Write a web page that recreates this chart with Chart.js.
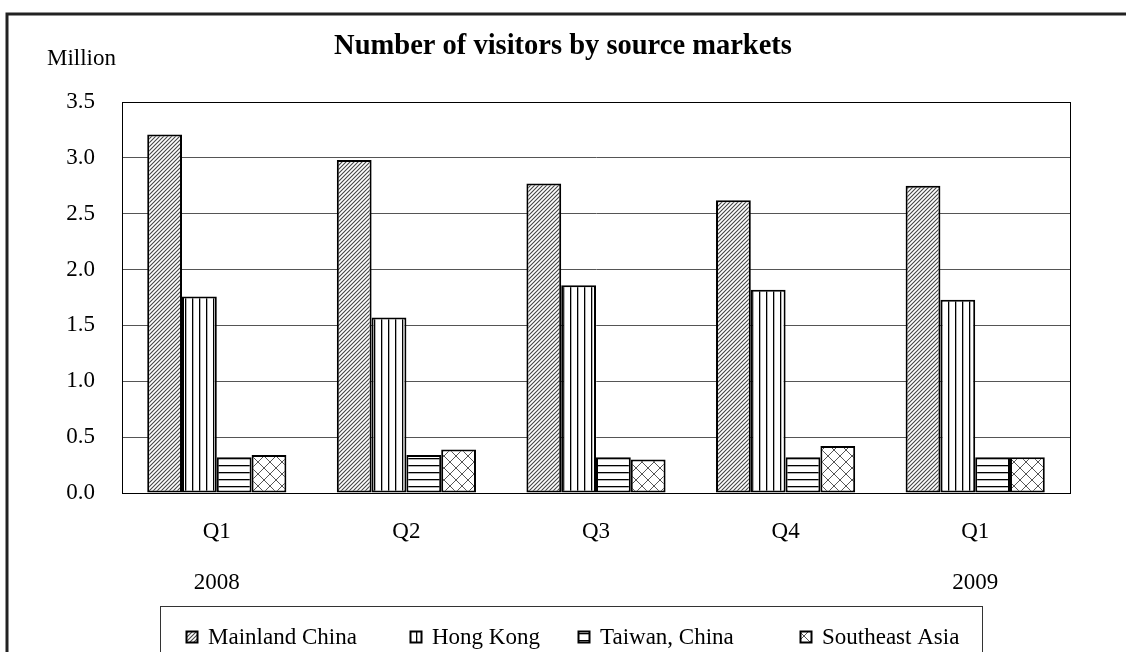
<!DOCTYPE html>
<html>
<head>
<meta charset="utf-8">
<script src="https://cdn.jsdelivr.net/npm/chart.js@4.4.1/dist/chart.umd.min.js"></script>
<style>
  html, body { margin: 0; padding: 0; background: #fff; }
  #wrap { width: 1126px; height: 652px; }
</style>
</head>
<body>
<div id="wrap"><canvas id="chart" width="1126" height="652"></canvas></div>
<script>
// Data (million visitors)
const quarters = ['Q1', 'Q2', 'Q3', 'Q4', 'Q1'];
const years = ['2008', '', '', '', '2009'];
const seriesNames = ['Mainland China', 'Hong Kong', 'Taiwan, China', 'Southeast Asia'];
const mainland = [3.21, 2.98, 2.77, 2.62, 2.75];
const hongKong = [1.76, 1.57, 1.86, 1.82, 1.73];
const taiwan = [0.32, 0.34, 0.32, 0.32, 0.32];
const seAsia = [0.34, 0.39, 0.30, 0.42, 0.32];
const yMin = 0, yMax = 3.5, yStep = 0.5;

const FONT = '"Liberation Serif", "Times New Roman", serif';

// Hatch patterns like the old Excel fills
function makePattern(kind) {
  const c = document.createElement('canvas');
  const size = { diag: 4, vert: 7, horiz: 7, cross: 12 }[kind];
  c.width = size; c.height = size;
  const g = c.getContext('2d');
  g.fillStyle = '#fff';
  g.fillRect(0, 0, size, size);
  if (kind === 'diag') {
    g.strokeStyle = '#444';
    g.lineWidth = 1.1;
    g.beginPath();
    g.moveTo(-1, size + 1); g.lineTo(size + 1, -1);
    g.moveTo(-1, 1); g.lineTo(1, -1);
    g.moveTo(size - 1, size + 1); g.lineTo(size + 1, size - 1);
    g.stroke();
  } else if (kind === 'vert') {
    g.fillStyle = '#000';
    g.fillRect(3, 0, 1.3, size);
  } else if (kind === 'horiz') {
    g.fillStyle = '#000';
    g.fillRect(0, 3, size, 1.3);
  } else {
    g.strokeStyle = '#555';
    g.lineWidth = 1;
    g.beginPath();
    g.moveTo(0, 0); g.lineTo(size, size);
    g.moveTo(size, 0); g.lineTo(0, size);
    g.stroke();
  }
  return g.createPattern(c, 'repeat');
}

const patterns = [makePattern('diag'), makePattern('vert'), makePattern('horiz'), makePattern('cross')];
const seriesData = [mainland, hongKong, taiwan, seAsia];

const labels = quarters.map((q, i) => years[i] ? [q, '', years[i]] : [q]);

// Frame, title, unit label and boxed legend
const decor = {
  id: 'decor',
  afterDraw(chart) {
    const ctx = chart.ctx;
    const a = chart.chartArea;
    ctx.save();
    // plot box
    ctx.strokeStyle = '#000';
    ctx.lineWidth = 1;
    ctx.strokeRect(Math.round(a.left) + 0.5, Math.round(a.top) + 0.5,
      Math.round(a.right - a.left), Math.round(a.bottom - a.top));
    // outer frame
    ctx.lineWidth = 3;
    ctx.strokeStyle = '#222';
    ctx.strokeRect(7, 14, 1130, 700);
    // title
    ctx.fillStyle = '#000';
    ctx.font = 'bold 28.5px ' + FONT;
    ctx.textAlign = 'center';
    ctx.textBaseline = 'alphabetic';
    ctx.fillText('Number of visitors by source markets', 563, 54);
    // unit
    ctx.font = '23px ' + FONT;
    ctx.textAlign = 'left';
    ctx.fillText('Million', 47, 65);
    // legend box
    ctx.lineWidth = 1;
    ctx.strokeStyle = '#333';
    ctx.strokeRect(160.5, 606.5, 822, 46);
    const iconX = [186, 410, 578, 800];
    ctx.font = '23px ' + FONT;
    seriesNames.forEach((name, i) => {
      ctx.fillStyle = patterns[i];
      ctx.fillRect(iconX[i], 631, 12, 12);
      ctx.lineWidth = 2;
      ctx.strokeStyle = '#000';
      ctx.strokeRect(iconX[i] + 0.5, 631.5, 11, 11);
      ctx.fillStyle = '#000';
      ctx.fillText(name, iconX[i] + 22, 644);
    });
    ctx.restore();
  }
};

new Chart(document.getElementById('chart'), {
  type: 'bar',
  data: {
    labels: labels,
    datasets: seriesNames.map((name, i) => ({
      label: name,
      data: seriesData[i],
      backgroundColor: patterns[i],
      borderColor: '#000',
      borderWidth: 2,
      borderSkipped: false,
      categoryPercentage: 0.734,
      barPercentage: 1
    }))
  },
  options: {
    responsive: false,
    animation: false,
    layout: { padding: { left: 0, right: 56, top: 102, bottom: 0 } },
    plugins: {
      legend: { display: false },
      tooltip: { enabled: false }
    },
    scales: {
      x: {
        grid: { display: false, drawTicks: false },
        border: { display: true, color: '#000', width: 1 },
        ticks: {
          color: '#000',
          padding: 26,
          maxRotation: 0,
          autoSkip: false,
          font: { family: FONT, size: 23, lineHeight: '25.5px' }
        },
        afterFit(scale) { scale.height = 159; }
      },
      y: {
        min: yMin,
        max: yMax,
        grid: { color: '#555', lineWidth: 1, drawTicks: false },
        border: { display: true, color: '#000', width: 1 },
        ticks: {
          stepSize: yStep,
          color: '#000',
          padding: 27,
          font: { family: FONT, size: 23 },
          callback: v => v.toFixed(1)
        },
        afterFit(scale) { scale.width = 122; }
      }
    }
  },
  plugins: [decor]
});
</script>
</body>
</html>
